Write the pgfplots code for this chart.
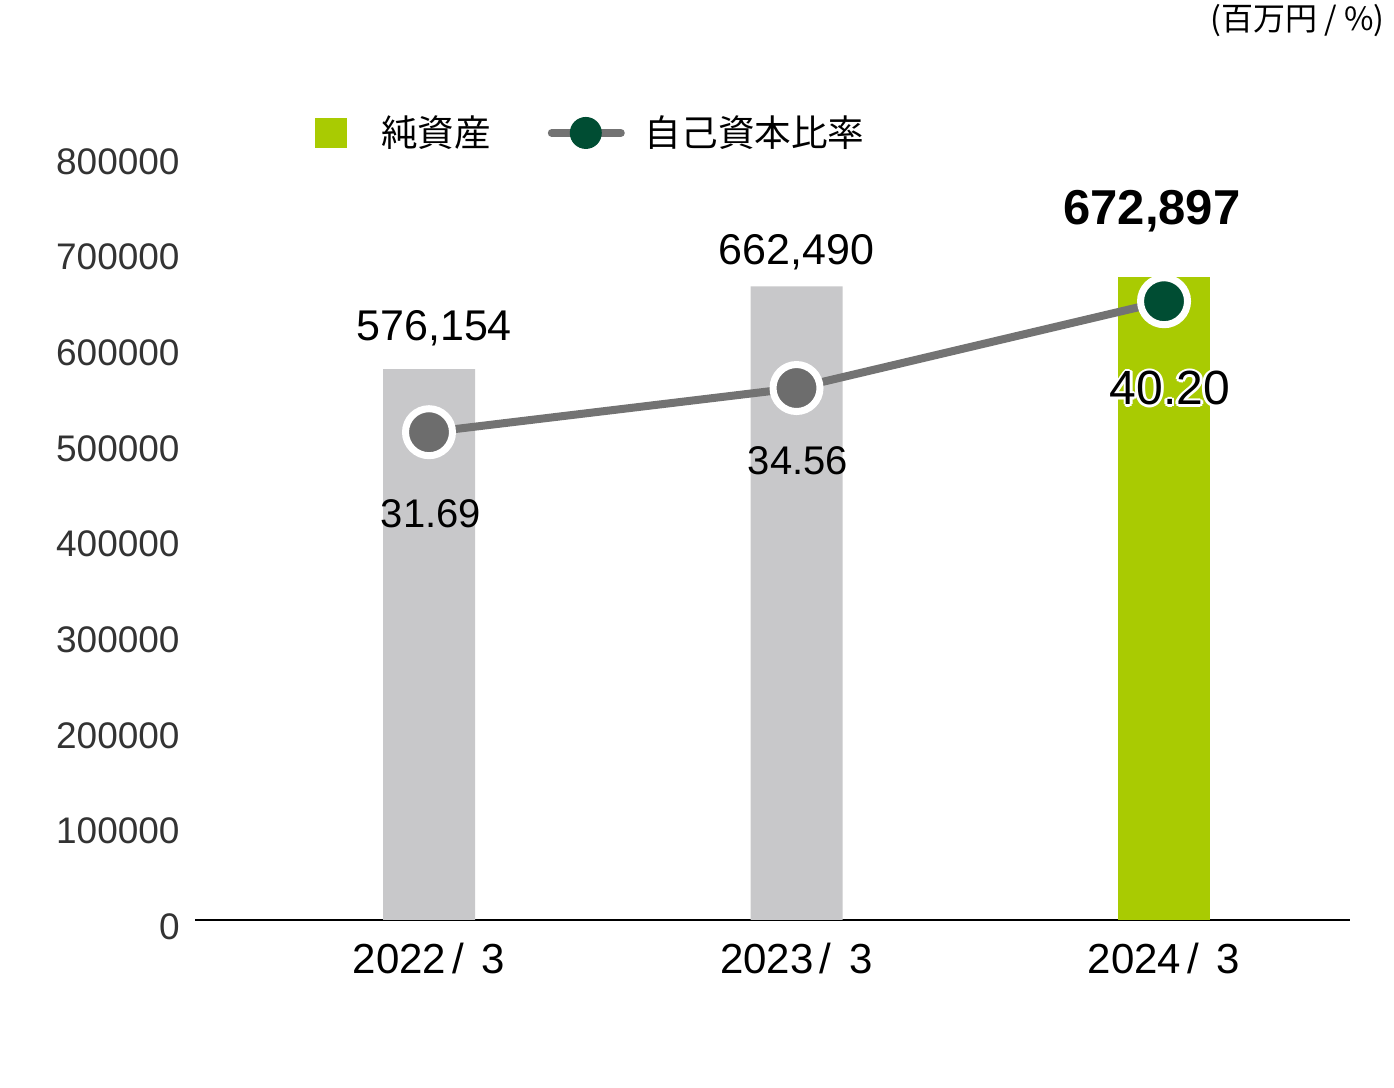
\documentclass[border=0pt]{standalone}
\usepackage{fontspec}
\setmainfont{Liberation Sans}
\newfontfamily\cjk{Noto Sans CJK JP}
\usepackage{pgfplots}
\pgfplotsset{compat=1.18}
\definecolor{barGray}{HTML}{C8C8CA}
\definecolor{barGreen}{HTML}{A9CB02}
\definecolor{lineGray}{HTML}{737373}
\definecolor{markGray}{HTML}{6D6D6D}
\definecolor{darkGreen}{HTML}{004D33}
\newcommand\halotext[1]{%
 \makebox[0pt][l]{\color{white}\hspace{1.3pt}#1}%
 \makebox[0pt][l]{\color{white}\hspace{-1.3pt}#1}%
 \makebox[0pt][l]{\color{white}\raisebox{1.3pt}{#1}}%
 \makebox[0pt][l]{\color{white}\raisebox{-1.3pt}{#1}}%
 \makebox[0pt][l]{\color{white}\hspace{0.9pt}\raisebox{0.9pt}{#1}}%
 \makebox[0pt][l]{\color{white}\hspace{-0.9pt}\raisebox{0.9pt}{#1}}%
 \makebox[0pt][l]{\color{white}\hspace{0.9pt}\raisebox{-0.9pt}{#1}}%
 \makebox[0pt][l]{\color{white}\hspace{-0.9pt}\raisebox{-0.9pt}{#1}}%
 #1}
\newcommand\yl[1]{#1\kern3pt/\hspace{9pt}3}
\begin{document}
\begin{tikzpicture}
\path[use as bounding box] (0pt,0pt) rectangle (697pt,544pt);
\begin{axis}[
 at={(97.5pt,84pt)}, anchor=south west,
 scale only axis, width=577.5pt, height=382.5pt,
 xmin=-0.6367, xmax=2.506, ymin=0, ymax=800000,
 axis x line*=bottom, axis y line*=left,
 y axis line style={draw=none},
 x axis line style={line width=1pt, -},
 major tick length=0pt,
 xtick={0,1,2}, xticklabels={\yl{2022}, \yl{2023}, \yl{2024}},
 ytick={0,100000,200000,300000,400000,500000,600000,700000,800000},
 scaled y ticks=false,
 /pgf/number format/assume math mode=true,
 yticklabel style={/pgf/number format/fixed, /pgf/number format/1000 sep={}, font=\fontsize{18.5}{20}\selectfont, text=black!80, inner sep=0pt, xshift=-7.5pt, yshift=-3.3pt},
 xticklabel style={font=\fontsize{21}{24}\selectfont, inner sep=0pt, yshift=-11.5pt},
 ybar, bar width=46pt, bar shift=0pt,
 clip=false,
]
\addplot[fill=barGray, draw=none] coordinates {(0,576154) (1,662490)};
\addplot[fill=barGreen, draw=none] coordinates {(2,672897)};
\node[anchor=base, inner sep=0pt, font=\fontsize{21.5}{24}\selectfont] at (axis cs:0.014,606536) {576,154};
\node[anchor=base, inner sep=0pt, font=\fontsize{21.5}{24}\selectfont] at (axis cs:1.0,686013) {662,490};
\node[anchor=base, inner sep=0pt, font=\bfseries\fontsize{24.5}{28}\selectfont] at (axis cs:1.967,727843) {672,897};
\end{axis}
\begin{axis}[
 at={(97.5pt,84pt)}, anchor=south west,
 scale only axis, width=577.5pt, height=382.5pt,
 xmin=-0.6367, xmax=2.506, ymin=0, ymax=49.7,
 hide axis, clip=false,
 legend style={at={(0.1039,1.0288)}, anchor=west, draw=none, fill=none,
   inner sep=0pt, outer sep=0pt, nodes={inner sep=0pt},
   font=\cjk\fontsize{18.3}{22}\selectfont,
   /tikz/every even column/.append style={column sep=28.5pt}},
 legend columns=2,
]
\addlegendimage{legend image code/.code={\fill[barGreen, draw=none] (0pt,-7.5pt) rectangle (16pt,7.5pt); \path[draw=none, fill=none] (0pt,0pt) -- (33pt,0pt);}}
\addlegendentry{純資産}
\addlegendimage{legend image code/.code={\draw[lineGray, line width=4pt, line cap=round] (2pt,0pt) -- (36.5pt,0pt); \fill[darkGreen, draw=none] (19pt,0pt) circle (8pt); \path[draw=none, fill=none] (0pt,0pt) -- (48.5pt,0pt);}}
\addlegendentry{自己資本比率}
\addplot[lineGray, line width=4pt, forget plot] coordinates {(0,31.69) (1,34.56) (2,40.20)};
\addplot[only marks, mark=*, mark size=11.75pt, mark options={fill=markGray, draw=white, line width=3.5pt}, forget plot] coordinates {(0,31.69) (1,34.56)};
\addplot[only marks, mark=*, mark size=11.75pt, mark options={fill=darkGreen, draw=white, line width=3.5pt}, forget plot] coordinates {(2,40.20)};
\node[anchor=base, inner sep=0pt, font=\fontsize{20}{24}\selectfont] at (axis cs:0.005,25.47) {31.69};
\node[anchor=base, inner sep=0pt, font=\fontsize{20}{24}\selectfont] at (axis cs:1.004,28.91) {34.56};
\node[anchor=base, inner sep=0pt, font=\fontsize{24}{27}\selectfont] at (axis cs:2.016,33.46) {\halotext{40.20}};
\node[anchor=east, inner sep=0pt, font=\cjk\fontsize{16}{19}\selectfont] at (rel axis cs:1.0303,1.176) {(百万円 / \%)};
\end{axis}
\end{tikzpicture}
\end{document}
